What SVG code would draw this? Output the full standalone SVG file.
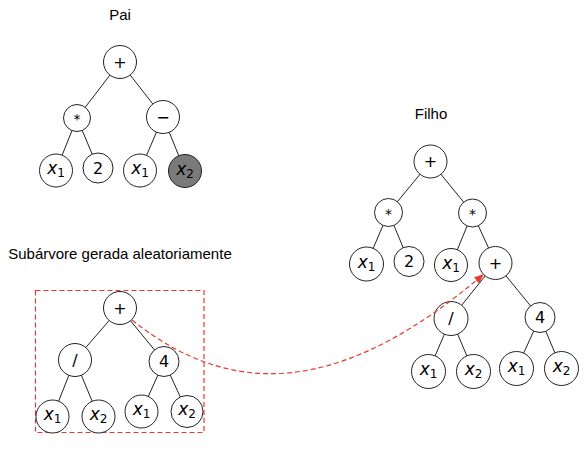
<svg xmlns="http://www.w3.org/2000/svg" width="587" height="452" viewBox="0 0 587 452">
<style>
.title{font-family:"Liberation Sans",Arial,sans-serif;font-size:15px;fill:#000;text-anchor:middle}
.nd{fill:#fff;stroke:#222;stroke-width:1}
.gray{fill:#7a7a7a}
.lb{font-family:"DejaVu Sans","Liberation Sans",sans-serif;font-size:16px;fill:#000;text-anchor:middle;dominant-baseline:central}
.sm{font-size:14px}
.var{font-family:"DejaVu Sans","Liberation Sans",sans-serif;font-size:17px;fill:#000;text-anchor:middle}
.v{font-style:italic}
.sub{font-size:12px;font-style:normal}
.edge{stroke:#222;stroke-width:1;fill:none}
.red{stroke:#e8392e;stroke-width:1.2;fill:none;stroke-dasharray:5,3}
</style>
<defs>
<marker id="ah" viewBox="0 0 10 10" refX="10" refY="5" markerWidth="10" markerHeight="10" markerUnits="userSpaceOnUse" orient="auto">
<path d="M0,1 L10,5 L0,9 Z" fill="#e8392e"/>
</marker>
</defs>
<text class="title" x="120" y="20">Pai</text>
<text class="title" x="120" y="259">Subárvore gerada aleatoriamente</text>
<text class="title" x="431" y="119">Filho</text>
<g id="connectors">
<line class="edge" x1="120" y1="62" x2="77" y2="118"/>
<line class="edge" x1="120" y1="62" x2="163" y2="117"/>
<line class="edge" x1="77" y1="118" x2="56" y2="170.5"/>
<line class="edge" x1="77" y1="118" x2="98" y2="168"/>
<line class="edge" x1="163" y1="117" x2="140" y2="170.5"/>
<line class="edge" x1="163" y1="117" x2="185" y2="171"/>
<line class="edge" x1="120" y1="308" x2="75" y2="360"/>
<line class="edge" x1="120" y1="308" x2="164" y2="361.5"/>
<line class="edge" x1="75" y1="360" x2="52.5" y2="416.5"/>
<line class="edge" x1="75" y1="360" x2="98.5" y2="416.5"/>
<line class="edge" x1="164" y1="361.5" x2="141.5" y2="411.5"/>
<line class="edge" x1="164" y1="361.5" x2="187" y2="411.5"/>
<line class="edge" x1="430.5" y1="161.5" x2="388.5" y2="212.5"/>
<line class="edge" x1="430.5" y1="161.5" x2="472.5" y2="213"/>
<line class="edge" x1="388.5" y1="212.5" x2="366.5" y2="264"/>
<line class="edge" x1="388.5" y1="212.5" x2="409" y2="261.5"/>
<line class="edge" x1="472.5" y1="213" x2="451" y2="265"/>
<line class="edge" x1="472.5" y1="213" x2="495.5" y2="263"/>
<line class="edge" x1="495.5" y1="263" x2="451" y2="318.5"/>
<line class="edge" x1="495.5" y1="263" x2="540" y2="317.5"/>
<line class="edge" x1="451" y1="318.5" x2="428.5" y2="371.5"/>
<line class="edge" x1="451" y1="318.5" x2="473.5" y2="371.5"/>
<line class="edge" x1="540" y1="317.5" x2="516.5" y2="368.5"/>
<line class="edge" x1="540" y1="317.5" x2="561.5" y2="368.5"/>
</g>
<g id="pai">
<g id="p0"><circle class="nd" cx="120" cy="62" r="16.5"/><text class="lb" x="120" y="62">+</text></g>
<g id="p1"><circle class="nd" cx="77" cy="118" r="13.5"/><text class="lb sm" x="77" y="119">*</text></g>
<g id="p2"><circle class="nd" cx="163" cy="117" r="16.5"/><text class="lb" x="163" y="117">−</text></g>
<g id="p3"><circle class="nd" cx="56" cy="170.5" r="16.5"/><text class="var" x="56" y="174"><tspan class="v">x</tspan><tspan class="sub" dy="3">1</tspan></text></g>
<g id="p4"><circle class="nd" cx="98" cy="168" r="15"/><text class="lb" x="98" y="168">2</text></g>
<g id="p5"><circle class="nd" cx="140" cy="170.5" r="16.5"/><text class="var" x="140" y="174"><tspan class="v">x</tspan><tspan class="sub" dy="3">1</tspan></text></g>
<g id="p6"><circle class="nd gray" cx="185" cy="171" r="16.5"/><text class="var" x="185" y="174.5"><tspan class="v">x</tspan><tspan class="sub" dy="3">2</tspan></text></g>
</g>
<g id="subarvore">
<rect x="35.5" y="290.5" width="168.5" height="142" fill="none" class="red"/>
<g id="s0"><circle class="nd" cx="120" cy="308" r="16.5"/><text class="lb" x="120" y="308">+</text></g>
<g id="s1"><circle class="nd" cx="75" cy="360" r="16.5"/><text class="lb" x="75" y="360">/</text></g>
<g id="s2"><circle class="nd" cx="164" cy="361.5" r="15"/><text class="lb" x="164" y="361.5">4</text></g>
<g id="s3"><circle class="nd" cx="52.5" cy="416.5" r="16.5"/><text class="var" x="52.5" y="420"><tspan class="v">x</tspan><tspan class="sub" dy="3">1</tspan></text></g>
<g id="s4"><circle class="nd" cx="98.5" cy="416.5" r="16.5"/><text class="var" x="98.5" y="420"><tspan class="v">x</tspan><tspan class="sub" dy="3">2</tspan></text></g>
<g id="s5"><circle class="nd" cx="141.5" cy="411.5" r="16.5"/><text class="var" x="141.5" y="415"><tspan class="v">x</tspan><tspan class="sub" dy="3">1</tspan></text></g>
<g id="s6"><circle class="nd" cx="187" cy="411.5" r="16"/><text class="var" x="187" y="415"><tspan class="v">x</tspan><tspan class="sub" dy="3">2</tspan></text></g>
</g>
<g id="filho">
<g id="f0"><circle class="nd" cx="430.5" cy="161.5" r="16.5"/><text class="lb" x="430.5" y="161.5">+</text></g>
<g id="f1"><circle class="nd" cx="388.5" cy="212.5" r="14"/><text class="lb sm" x="388.5" y="213.5">*</text></g>
<g id="f2"><circle class="nd" cx="472.5" cy="213" r="14"/><text class="lb sm" x="472.5" y="214">*</text></g>
<g id="f3"><circle class="nd" cx="366.5" cy="264" r="17"/><text class="var" x="366.5" y="267.5"><tspan class="v">x</tspan><tspan class="sub" dy="3">1</tspan></text></g>
<g id="f4"><circle class="nd" cx="409" cy="261.5" r="15"/><text class="lb" x="409" y="261.5">2</text></g>
<g id="f5"><circle class="nd" cx="451" cy="265" r="16.5"/><text class="var" x="451" y="268.5"><tspan class="v">x</tspan><tspan class="sub" dy="3">1</tspan></text></g>
<g id="f6"><circle class="nd" cx="495.5" cy="263" r="16.5"/><text class="lb" x="495.5" y="263">+</text></g>
<g id="f7"><circle class="nd" cx="451" cy="318.5" r="17"/><text class="lb" x="451" y="318.5">/</text></g>
<g id="f8"><circle class="nd" cx="540" cy="317.5" r="15"/><text class="lb" x="540" y="317.5">4</text></g>
<g id="f9"><circle class="nd" cx="428.5" cy="371.5" r="17"/><text class="var" x="428.5" y="375"><tspan class="v">x</tspan><tspan class="sub" dy="3">1</tspan></text></g>
<g id="f10"><circle class="nd" cx="473.5" cy="371.5" r="17"/><text class="var" x="473.5" y="375"><tspan class="v">x</tspan><tspan class="sub" dy="3">2</tspan></text></g>
<g id="f11"><circle class="nd" cx="516.5" cy="368.5" r="17"/><text class="var" x="516.5" y="372"><tspan class="v">x</tspan><tspan class="sub" dy="3">1</tspan></text></g>
<g id="f12"><circle class="nd" cx="561.5" cy="368.5" r="17"/><text class="var" x="561.5" y="372"><tspan class="v">x</tspan><tspan class="sub" dy="3">2</tspan></text></g>
</g>
<g id="arrow">
<path class="red" d="M132,320 C242,408 354,384.5 484,274" marker-end="url(#ah)"/>
</g>
</svg>
